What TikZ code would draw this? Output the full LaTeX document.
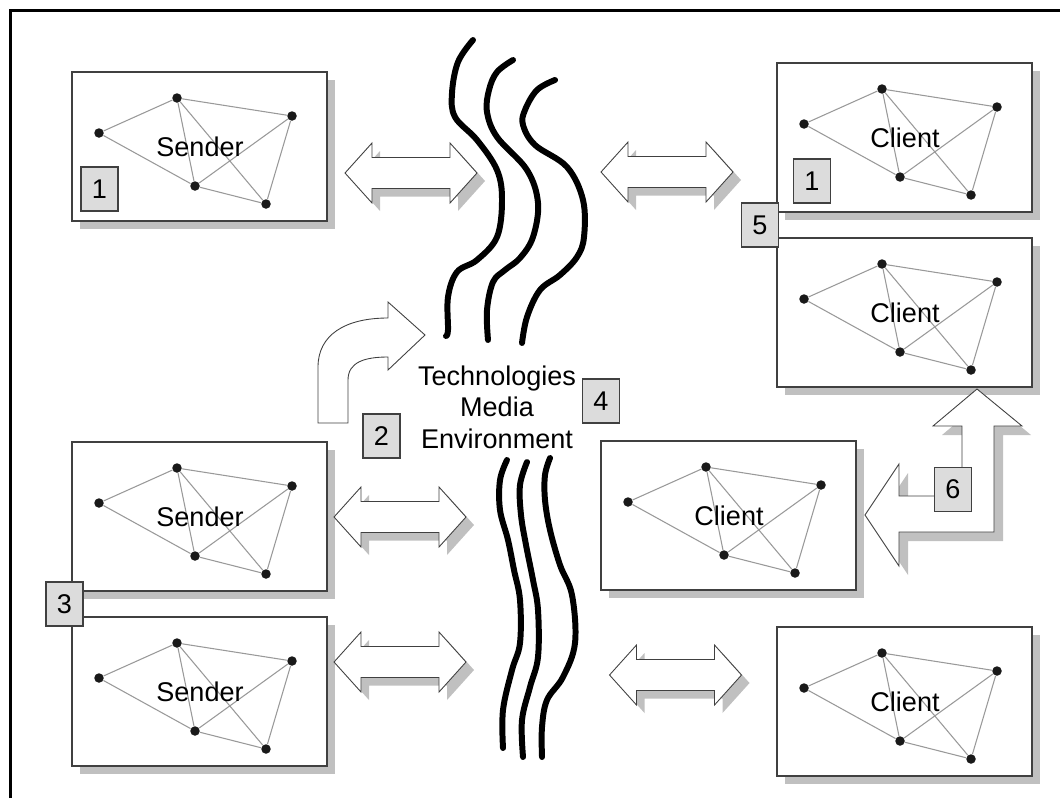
\documentclass[tikz,border=0pt]{standalone}
\usepackage{fontspec}
\setmainfont{Liberation Sans}
\usetikzlibrary{shadows}

\definecolor{boxline}{HTML}{404040}
\definecolor{edgegray}{HTML}{999999}
\definecolor{shadowgray}{HTML}{C0C0C0}
\definecolor{tagfill}{HTML}{DCDCDC}

\begin{document}
\begin{tikzpicture}[x=0.02cm, y=-0.02cm,
    netbox/.style={draw=boxline, line width=0.7pt, fill=white, inner sep=0pt,
        minimum width=5.1cm, minimum height=2.98cm,
        drop shadow={shadow xshift=0.16cm, shadow yshift=-0.16cm, fill=shadowgray, opacity=1}},
    netdot/.style={circle, fill=black!90, inner sep=0pt, minimum size=0.19cm},
    netedge/.style={draw=edgegray, line width=0.6pt},
    nettext/.style={inner sep=0pt, font=\fontsize{15.4}{18}\selectfont},
    tag/.style={draw=boxline, fill=tagfill, line width=0.6pt, inner sep=0pt,
        minimum width=0.74cm, minimum height=0.88cm, font=\fontsize{15.4}{18}\selectfont},
    blockarrow/.style={draw=boxline, fill=white, line width=0.5pt},
    arrowshadow/.style={fill=shadowgray},
    wave/.style={line width=3.4pt, line cap=round, line join=round}]

    \useasboundingbox (0,0) rectangle (1060,798);
    \draw[line width=1.3pt] (10.5,798) -- (10.5,10.5) -- (1060,10.5);

    % Sender and client networks
    \foreach \name/\x/\y/\txt in {s1/72/72/Sender, s2/72/442/Sender, s3/72/617/Sender,
            c1/777/63/Client, c2/777/238/Client, c3/601/441/Client, c4/777/627/Client} {
        \node[netbox] (\name) at ({\x+127.5},{\y+74.5}) {};
        \foreach \p/\dx/\dy in {l/27/61, t/105/26, r/220/44, m/123/114, b/194/132}
            \node[netdot] (\name-\p) at ({\x+\dx},{\y+\dy}) {};
        \foreach \a/\b in {l/t, l/m, t/r, t/m, t/b, r/m, r/b, m/b}
            \draw[netedge] (\name-\a) -- (\name-\b);
        \node[nettext] (\name-txt) at ({\x+128},{\y+75}) {\txt};
    }

    % Two-way arrows
    \foreach \x/\y in {411/173, 667/172, 400/517, 400/662, 675.5/675} {
        \begin{scope}[shift={(\x,\y)}]
            \fill[arrowshadow, shift={(8,8)}] (-66,0) -- (-39,-30) -- (-39,-15.5) -- (39,-15.5) -- (39,-30)
                -- (66,0) -- (39,30) -- (39,15.5) -- (-39,15.5) -- (-39,30) -- cycle;
            \draw[blockarrow] (-66,0) -- (-39,-30) -- (-39,-15.5) -- (39,-15.5) -- (39,-30)
                -- (66,0) -- (39,30) -- (39,15.5) -- (-39,15.5) -- (-39,30) -- cycle;
        \end{scope}
    }

    % Bent arrow
    \draw[blockarrow] (318,423) -- (318,367) .. controls (318,335) and (345,318) .. (388,318)
        -- (388,302) -- (425,335) -- (388,370) -- (388,357)
        .. controls (365,357) and (348,362) .. (348,380) -- (348,423) -- cycle;

    % Left-up arrow
    \fill[arrowshadow, shift={(9,9)}] (977,389) -- (1022,426) -- (994,426) -- (994,532) -- (899,532)
        -- (899,566) -- (865,515) -- (899,464) -- (899,496) -- (962,496) -- (962,426) -- (933,426) -- cycle;
    \draw[blockarrow] (977,389) -- (1022,426) -- (994,426) -- (994,532) -- (899,532)
        -- (899,566) -- (865,515) -- (899,464) -- (899,496) -- (962,496) -- (962,426) -- (933,426) -- cycle;

    % Waves
    \draw[wave] plot[smooth, tension=0.6] coordinates {(473,40) (458,62) (452,93) (455,117) (477,140)
        (497,170) (502,200) (497,237) (477,260) (457,272) (448,297) (448,330) (446,336)};
    \draw[wave] plot[smooth, tension=0.6] coordinates {(513,60) (497,72) (489,90) (487,112) (497,137)
        (527,170) (538,203) (533,237) (520,258) (505,270) (493,282) (487,310) (488,340)};
    \draw[wave] plot[smooth, tension=0.6] coordinates {(555,80) (537,90) (525,110) (523,125) (535,145)
        (567,167) (583,200) (584,237) (577,257) (560,275) (540,290) (527,317) (522,343)};
    \draw[wave] plot[smooth, tension=0.6] coordinates {(507,460) (500,480) (500,510) (508,540) (514,570)
        (520,600) (520,643) (512,670) (503,710) (503,748)};
    \draw[wave] plot[smooth, tension=0.6] coordinates {(527,462) (520,485) (521,515) (526,545) (533,580)
        (538,610) (538,657) (530,687) (522,720) (523,757)};
    \draw[wave] plot[smooth, tension=0.6] coordinates {(550,458) (545,475) (545,500) (550,530) (560,565)
        (572,595) (575,643) (563,677) (547,700) (542,727) (542,757)};

    \node[nettext, align=center] (medium) at (497,407) {Technologies\\Media\\Environment};

    % Number tags
    \foreach \name/\txt/\x/\y in {tag-s/1/99.5/189, tag-c/1/812/181, tag-2/2/381.5/436, tag-3/3/64.5/604,
            tag-4/4/601/401, tag-5/5/760/225, tag-6/6/953/489.5}
        \node[tag] (\name) at (\x,\y) {\txt};
\end{tikzpicture}
\end{document}
